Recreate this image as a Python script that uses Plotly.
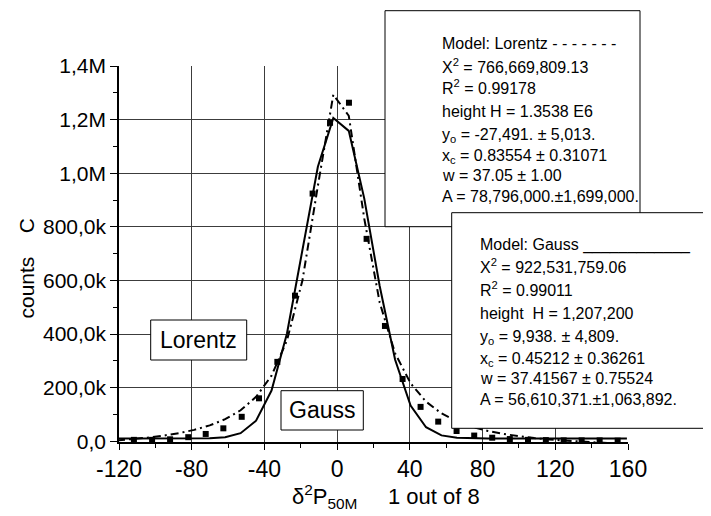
import plotly.graph_objects as go

# ---- data ----
data_x = [-111.8, -101.8, -91.9, -81.9, -72.3, -62.6, -52.5, -43.0, -32.9, -23.2, -13.5, -3.9,
          6.5, 16.2, 26.3, 36.0, 45.9, 55.6, 65.7, 75.4, 85.3, 95.0, 105.0, 114.8, 124.6, 134.5,
          144.4, 154.3]
data_y = [5000, 5000, 7000, 15000, 27000, 48000, 91000, 160000, 296000, 543000, 924000, 1188000,
          1263000, 755000, 430000, 232000, 128000, 73000, 38000, 21000, 13000, 8000, 5000, 4000,
          3000, 3000, 3000, 2000]

fit_x = [-121.1, -112.6, -104.1, -95.6, -87.1, -78.6, -70.1, -61.6, -53.1, -44.6, -36.1, -27.6,
         -19.1, -10.6, -2.1, 6.4, 14.9, 23.4, 31.9, 40.4, 48.9, 57.4, 65.9, 74.4, 82.9, 91.4,
         99.9, 108.4, 116.9, 125.4, 133.9, 142.4, 150.9, 159.4]
gauss_y = [9900, 9900, 9900, 9900, 10000, 10100, 10900, 14900, 30000, 76500, 189000, 402000,
           709000, 1024000, 1206000, 1158000, 906000, 579000, 304000, 133000, 52000, 21700,
           12600, 10400, 10000, 9900, 9900, 9900, 9900, 9900, 9900, 9900, 9900, 9900]
lorentz_y = [3000, 7700, 13400, 20700, 30000, 42300, 58900, 82000, 115300, 165400, 244500,
             375800, 599700, 952600, 1293100, 1214300, 831400, 517700, 327700, 216000, 147600,
             103700, 74000, 53200, 38100, 26900, 18200, 11500, 6100, 1800, -1800, -4700, -7200,
             -9300]

x_ticks = [-120, -80, -40, 0, 40, 80, 120, 160]
x_ticktext = ["-120", "-80", "-40", "0", "40", "80", "120", "160"]
x_minor = [-100, -60, -20, 20, 60, 100, 140]
y_ticks = [0, 200000, 400000, 600000, 800000, 1000000, 1200000, 1400000]
y_ticktext = ["0,0", "200,0k", "400,0k", "600,0k", "800,0k", "1,0M", "1,2M", "1,4M"]
y_minor = [100000, 300000, 500000, 700000, 900000, 1100000, 1300000]

lorentz_lines = [
    "Model: Lorentz - - - - - - -",
    "X<sup>2</sup> = 766,669,809.13",
    "R<sup>2</sup> = 0.99178",
    "height H = 1.3538 E6",
    "y<sub>o</sub> = -27,491. ± 5,013.",
    "x<sub>c</sub> = 0.83554 ± 0.31071",
    "w = 37.05 ± 1.00",
    "A = 78,796,000.±1,699,000.",
]
gauss_lines = [
    "Model: Gauss ____________",
    "X<sup>2</sup> = 922,531,759.06",
    "R<sup>2</sup> = 0.99011",
    "height  H = 1,207,200",
    "y<sub>o</sub> = 9,938. ± 4,809.",
    "x<sub>c</sub> = 0.45212 ± 0.36261",
    "w = 37.41567 ± 0.75524",
    "A = 56,610,371.±1,063,892.",
]

FONT = "Liberation Sans, Arial, sans-serif"

fig = go.Figure()
fig.add_trace(go.Scatter(x=fit_x, y=lorentz_y, mode="lines",
                         line=dict(color="black", width=2, dash="8px,4px,2px,4px"),
                         showlegend=False, hoverinfo="skip"))
fig.add_trace(go.Scatter(x=fit_x, y=gauss_y, mode="lines",
                         line=dict(color="black", width=2),
                         showlegend=False, hoverinfo="skip"))
fig.add_trace(go.Scatter(x=data_x, y=data_y, mode="markers",
                         marker=dict(symbol="square", size=6, color="black"),
                         showlegend=False))

# window-pixel layout -> paper coordinates (plot area spans x 119..628, y 66..442 in the window)
def px_to_paper_x(px):
    return (px - 119) / 509.0

def px_to_paper_y(py):
    return (442 - py) / 376.0

boxes = [
    (385, 10.7, 640, 226.7),
    (451.7, 212.7, 709.5, 428.3),
    (150.7, 320, 246.7, 360),
    (281, 390.7, 363.3, 430),
]
for (x0, y0, x1, y1) in boxes:
    fig.add_shape(type="rect", xref="paper", yref="paper",
                  x0=px_to_paper_x(x0), x1=px_to_paper_x(x1),
                  y0=px_to_paper_y(y1), y1=px_to_paper_y(y0),
                  fillcolor="white", line=dict(color="black", width=1), layer="above")

lorentz_line_y = [43.3, 68.3, 90.0, 111.7, 133.3, 154.0, 175.7, 196.7]
gauss_line_y = [245.0, 268.3, 291.0, 313.3, 335.0, 356.7, 378.3, 399.0]
sup_shift = {"sup": -2.5, "sub": 2.5}


def line_offset(t):
    if "<sup>" in t:
        return sup_shift["sup"]
    if "<sub>" in t:
        return sup_shift["sub"]
    return 0.0


for txt, yy in zip(lorentz_lines, lorentz_line_y):
    fig.add_annotation(xref="paper", yref="paper", x=px_to_paper_x(440),
                       y=px_to_paper_y(yy + line_offset(txt)),
                       xanchor="left", yanchor="middle", align="left", showarrow=False,
                       text=txt, font=dict(family=FONT, size=16, color="black"))
for txt, yy in zip(gauss_lines, gauss_line_y):
    fig.add_annotation(xref="paper", yref="paper", x=px_to_paper_x(477.7),
                       y=px_to_paper_y(yy + line_offset(txt)),
                       xanchor="left", yanchor="middle", align="left", showarrow=False,
                       text=txt, font=dict(family=FONT, size=16, color="black"))

fig.add_annotation(xref="paper", yref="paper", x=px_to_paper_x(198.7), y=px_to_paper_y(340),
                   xanchor="center", yanchor="middle", showarrow=False, text="Lorentz",
                   font=dict(family=FONT, size=23, color="black"))
fig.add_annotation(xref="paper", yref="paper", x=px_to_paper_x(322), y=px_to_paper_y(410.3),
                   xanchor="center", yanchor="middle", showarrow=False, text="Gauss",
                   font=dict(family=FONT, size=23, color="black"))

# axis titles
fig.add_annotation(xref="paper", yref="paper", x=px_to_paper_x(386), y=px_to_paper_y(497),
                   xanchor="center", yanchor="middle", showarrow=False,
                   text="δ<sup>2</sup>P<sub>50M</sub>\u00a0\u00a0\u00a0\u00a0 1 out of 8",
                   font=dict(family=FONT, size=22, color="black"))
fig.add_annotation(xref="paper", yref="paper", x=px_to_paper_x(26), y=px_to_paper_y(268.5),
                   xanchor="center", yanchor="middle", showarrow=False, textangle=-90,
                   text="counts\u00a0\u00a0\u00a0 C",
                   font=dict(family=FONT, size=21, color="black"))

# the page body adds an 8px offset, so the figure is 8px smaller and margins shifted
fig.update_layout(
    width=703, height=508,
    margin=dict(l=111, r=83, t=58, b=74),
    paper_bgcolor="white", plot_bgcolor="white",
    font=dict(family=FONT, color="black"),
    xaxis=dict(range=[-120, 160], tickmode="array", tickvals=x_ticks, ticktext=x_ticktext,
               ticks="outside", ticklen=6, tickwidth=1, tickcolor="black",
               showline=True, linecolor="black", linewidth=1.5,
               showgrid=True, gridcolor="#3c3c3c", gridwidth=1, zeroline=False,
               tickfont=dict(family=FONT, size=23, color="black"),
               minor=dict(tickvals=x_minor, ticks="outside", ticklen=4, tickcolor="black",
                          showgrid=False)),
    yaxis=dict(range=[-3000, 1400000], tickmode="array", tickvals=y_ticks,
               ticktext=y_ticktext,
               ticks="outside", ticklen=7, tickwidth=1, tickcolor="black",
               showline=True, linecolor="black", linewidth=1.5,
               showgrid=True, gridcolor="#3c3c3c", gridwidth=1, zeroline=False,
               tickfont=dict(family=FONT, size=21, color="black"),
               minor=dict(tickvals=y_minor, ticks="outside", ticklen=4, tickcolor="black",
                          showgrid=False)),
)

fig.write_html("out.html")
